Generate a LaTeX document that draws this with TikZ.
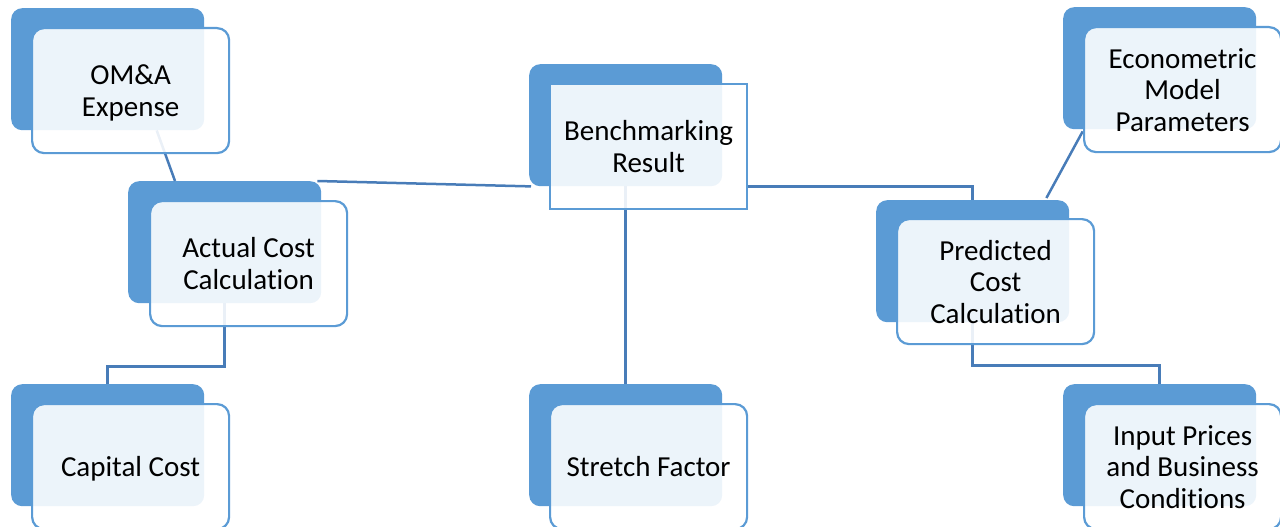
\documentclass[tikz,border=0pt]{standalone}
\usepackage{fontspec}
\setmainfont{Carlito}[Ligatures=NoCommon]
\usetikzlibrary{calc}
\definecolor{accent}{RGB}{91,155,213}
\definecolor{wirecol}{RGB}{72,124,184}

\begin{document}
\begin{tikzpicture}[x=1pt,y=-1pt,
  backbox/.style={fill=accent, rounded corners=11pt, minimum width=193pt,
    minimum height=122pt, inner sep=0pt, anchor=north west},
  frontbox/.style={draw=accent, line width=2.2pt, fill=white, fill opacity=0.89,
    text opacity=1, rounded corners=12pt, minimum width=197pt, minimum height=125pt,
    inner sep=0pt, align=center, font=\fontsize{29}{31.5}\selectfont, anchor=north west,
    text depth=0pt},
  wire/.style={draw=wirecol, line width=2.5pt}]

\useasboundingbox (0,0) rectangle (1280,527);

% shaded back cards
\node[backbox] (omaB)    at (11,8)     {};
\node[backbox] (actB)    at (128,181)  {};
\node[backbox] (benchB)  at (529,64)   {};
\node[backbox] (econB)   at (1063,7)   {};
\node[backbox] (predB)   at (876,200)  {};
\node[backbox] (capB)    at (11,384)   {};
\node[backbox] (strB)    at (529,384)  {};
\node[backbox] (inpB)    at (1063,384) {};

% connectors run beneath the translucent front cards
\draw[wire] ($(omaB.south)+(49,0)$) -- ($(actB.north west)+(47,0)$);
\draw[wire] ($(actB.north east)+(-4,0)$) -- ($(benchB.south west)+(2,0)$);
\draw[wire] (benchB.south) -- (strB.north);
\draw[wire] ($(econB.south)+(-77,2)$) -- ($(predB.north east)+(-23,-2)$);
\draw[wire] (actB.south) -- ++(0,63) -| (capB.north);
\draw[wire] (predB.south) -- ++(0,43) -| (inpB.north);

% front cards with the labels
\node[frontbox] (omaF)   at (31,27)    {OM\&A\\Expense};
\node[frontbox] (actF)   at (149,200)  {Actual Cost\\Calculation};
\node[frontbox, rounded corners=0pt] (benchF) at (549,83) {Benchmarking\\Result};
\node[frontbox] (econF)  at (1083,26)  {Econometric\\Model\\Parameters};
\node[frontbox] (predF)  at (896,218)  {Predicted\\Cost\\Calculation};
\node[frontbox] (capF)   at (31,403)   {Capital Cost};
\node[frontbox] (strF)   at (549,403)  {Stretch Factor};
\node[frontbox] (inpF)   at (1083,403) {Input Prices\\and Business\\Conditions};

% link from the result card across to the predicted cost card
\draw[wire] (benchB.south -| benchF.east) -| (predB.north);
\end{tikzpicture}
\end{document}
